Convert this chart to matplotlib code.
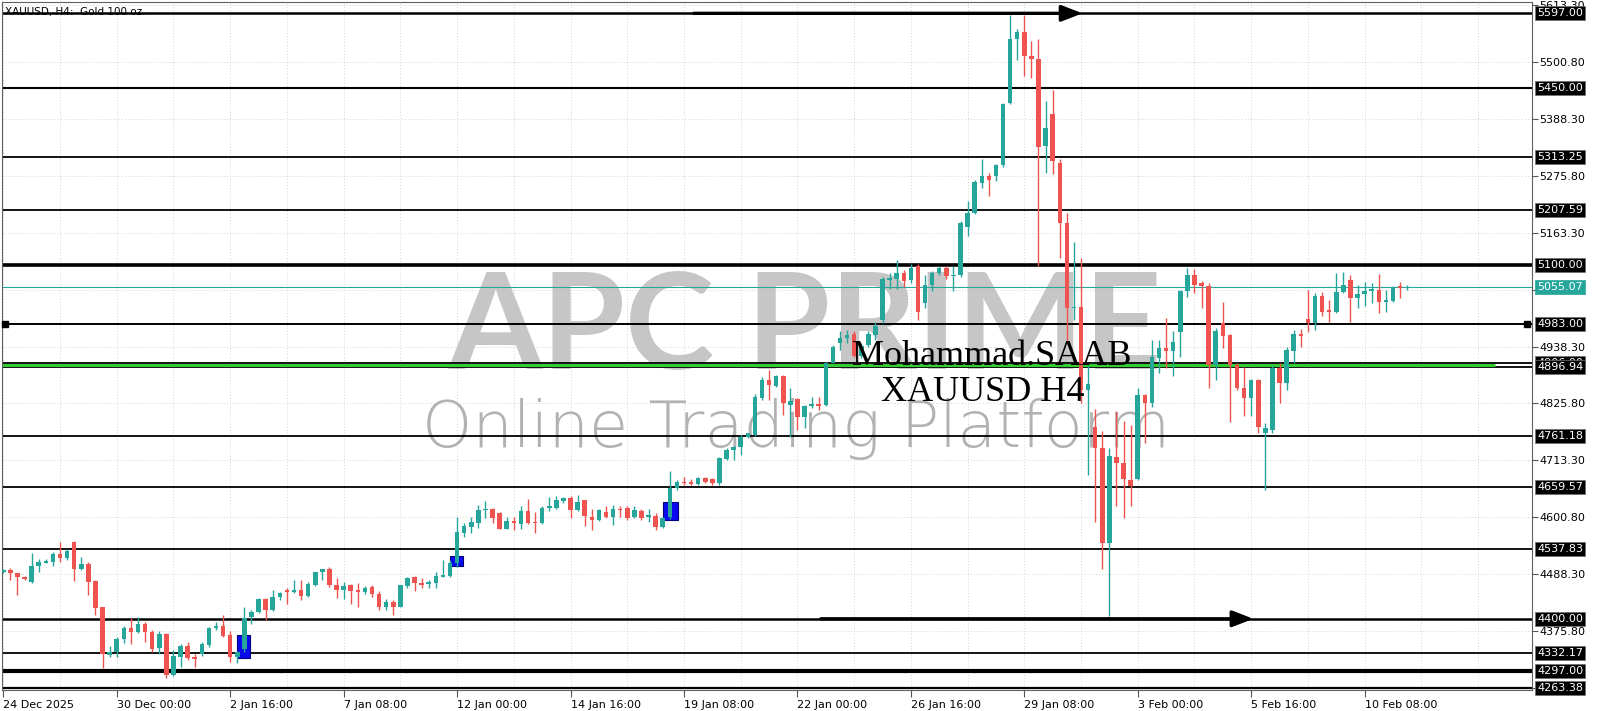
import matplotlib
matplotlib.use("Agg")
import matplotlib.pyplot as plt
import numpy as np
from matplotlib.patches import Rectangle

# XAUUSD H4 candles (bar 0 = 24 Dec 2025)
opens = [4492, 4497, 4490, 4483, 4472, 4505, 4511, 4513, 4528, 4521,
         4551, 4498, 4508, 4475, 4423, 4329, 4335, 4361, 4381, 4373,
         4389, 4373, 4342, 4369, 4289, 4325, 4347, 4325, 4330, 4348,
         4382, 4386, 4367, 4325, 4340, 4404, 4414, 4439, 4417, 4444,
         4456, 4452, 4456, 4446, 4467, 4492, 4498, 4467, 4456, 4467,
         4456, 4452, 4462, 4449, 4424, 4434, 4424, 4465, 4482, 4471,
         4468, 4471, 4483, 4485, 4510, 4570, 4582, 4589, 4616, 4618,
         4610, 4578, 4594, 4587, 4614, 4592, 4590, 4619, 4620, 4632,
         4638, 4616, 4634, 4602, 4595, 4612, 4602, 4618, 4620, 4601,
         4614, 4602, 4603, 4582, 4602, 4658, 4671, 4670, 4667, 4678,
         4676, 4668, 4716, 4734, 4739, 4759, 4763, 4836, 4872, 4860,
         4880, 4823, 4834, 4798, 4821, 4824, 4823, 4906, 4945, 4956,
         4964, 4920, 4941, 4961, 4990, 5069, 5071, 5083, 5069, 5098,
         5025, 5060, 5083, 5094, 5077, 5079, 5175, 5202, 5261, 5275,
         5275, 5298, 5420, 5546, 5560, 5513, 5506, 5334, 5397, 5302,
         5183, 5014, 5017, 4853, 4780, 4737, 4549, 4720, 4707, 4674,
         4677, 4842, 4826, 4915, 4935, 4930, 4966, 5049, 5080, 5063,
         5058, 4902, 4984, 4961, 4902, 4856, 4836, 4872, 4767, 4773,
         4895, 4867, 4930, 4963, 4992, 4985, 5038, 5010, 5007, 5047,
         5070, 5034, 5042, 5048, 5051, 5027, 5029, 5057, 5054]
highs = [4498, 4500, 4491, 4485, 4531, 4518, 4519, 4533, 4551, 4538,
         4553, 4522, 4513, 4477, 4424, 4346, 4363, 4386, 4401, 4403,
         4394, 4377, 4375, 4371, 4338, 4350, 4355, 4330, 4355, 4384,
         4394, 4408, 4375, 4337, 4424, 4417, 4441, 4441, 4457, 4452,
         4460, 4477, 4477, 4473, 4493, 4499, 4503, 4480, 4473, 4468,
         4470, 4464, 4467, 4454, 4440, 4437, 4467, 4482, 4485, 4480,
         4477, 4493, 4516, 4516, 4602, 4589, 4602, 4625, 4632, 4620,
         4612, 4602, 4602, 4622, 4636, 4612, 4622, 4640, 4642, 4641,
         4643, 4645, 4635, 4618, 4618, 4622, 4625, 4623, 4622, 4622,
         4618, 4618, 4609, 4602, 4693, 4674, 4681, 4677, 4680, 4681,
         4678, 4719, 4737, 4742, 4763, 4768, 4844, 4879, 4892, 4882,
         4882, 4856, 4836, 4823, 4839, 4839, 4908, 4941, 4968, 4970,
         4968, 4946, 4968, 4987, 5075, 5083, 5110, 5090, 5102, 5102,
         5079, 5087, 5098, 5098, 5098, 5187, 5225, 5267, 5309, 5282,
         5300, 5420, 5593, 5566, 5593, 5543, 5547, 5424, 5445, 5309,
         5202, 5144, 5113, 4902, 4814, 4772, 4737, 4810, 4791, 4783,
         4856, 4845, 4952, 4951, 4994, 4968, 5051, 5093, 5091, 5067,
         5063, 4974, 5027, 4964, 4905, 4898, 4875, 4875, 4787, 4902,
         4905, 4938, 4971, 4972, 5050, 5045, 5047, 5030, 5083, 5086,
         5080, 5060, 5065, 5063, 5082, 5050, 5057, 5065, 5060]
lows = [4490, 4477, 4448, 4477, 4470, 4493, 4510, 4504, 4513, 4516,
        4475, 4497, 4447, 4408, 4302, 4325, 4324, 4352, 4350, 4371,
        4355, 4335, 4330, 4282, 4286, 4305, 4319, 4305, 4327, 4345,
        4377, 4363, 4315, 4312, 4334, 4390, 4412, 4398, 4416, 4437,
        4429, 4450, 4437, 4444, 4465, 4477, 4462, 4442, 4440, 4429,
        4424, 4449, 4444, 4417, 4417, 4408, 4423, 4460, 4454, 4460,
        4460, 4460, 4482, 4483, 4503, 4562, 4570, 4579, 4599, 4589,
        4577, 4577, 4576, 4577, 4587, 4569, 4587, 4614, 4618, 4628,
        4599, 4614, 4584, 4576, 4594, 4599, 4585, 4602, 4595, 4599,
        4595, 4592, 4576, 4579, 4598, 4655, 4665, 4664, 4664, 4668,
        4664, 4665, 4714, 4714, 4723, 4757, 4761, 4832, 4832, 4858,
        4803, 4760, 4773, 4777, 4816, 4813, 4821, 4905, 4932, 4945,
        4918, 4915, 4937, 4952, 4985, 5052, 5052, 5056, 5063, 4991,
        5014, 5048, 5079, 5071, 5048, 5075, 5156, 5200, 5252, 5236,
        5265, 5294, 5418, 5505, 5474, 5470, 5098, 5282, 5279, 5113,
        4945, 4991, 4826, 4684, 4592, 4499, 4405, 4622, 4599, 4622,
        4674, 4747, 4819, 4885, 4895, 4880, 4918, 5037, 5045, 5014,
        4856, 4872, 4935, 4790, 4852, 4801, 4801, 4767, 4655, 4768,
        4826, 4852, 4905, 4938, 4966, 4971, 4999, 4987, 5004, 5045,
        4987, 5014, 5018, 5024, 5004, 5007, 5027, 5034, 5050]
closes = [4496, 4490, 4483, 4479, 4505, 4513, 4515, 4528, 4521, 4534,
          4498, 4508, 4473, 4422, 4330, 4335, 4361, 4381, 4373, 4389,
          4373, 4340, 4369, 4289, 4327, 4347, 4322, 4321, 4350, 4382,
          4386, 4365, 4325, 4335, 4401, 4414, 4439, 4417, 4444, 4450,
          4452, 4456, 4446, 4468, 4492, 4498, 4466, 4456, 4465, 4454,
          4452, 4460, 4449, 4424, 4434, 4424, 4466, 4480, 4470, 4467,
          4473, 4485, 4487, 4510, 4572, 4583, 4591, 4616, 4618, 4599,
          4578, 4594, 4589, 4614, 4590, 4589, 4620, 4622, 4634, 4638,
          4616, 4630, 4603, 4595, 4616, 4602, 4618, 4616, 4599, 4615,
          4599, 4605, 4582, 4599, 4658, 4671, 4668, 4667, 4678, 4671,
          4668, 4717, 4734, 4740, 4760, 4767, 4839, 4872, 4862, 4880,
          4827, 4831, 4798, 4821, 4824, 4821, 4905, 4938, 4955, 4961,
          4920, 4940, 4964, 4979, 5071, 5073, 5083, 5067, 5094, 5006,
          5060, 5083, 5094, 5077, 5079, 5183, 5202, 5263, 5276, 5267,
          5298, 5417, 5546, 5560, 5513, 5506, 5332, 5371, 5305, 5183,
          5014, 5017, 4853, 4864, 4737, 4549, 4722, 4707, 4676, 4662,
          4842, 4826, 4917, 4935, 4930, 4948, 5049, 5080, 5060, 5058,
          4902, 4968, 4959, 4902, 4856, 4836, 4872, 4780, 4777, 4895,
          4867, 4931, 4963, 4959, 4984, 5038, 5007, 5007, 5047, 5060,
          5034, 5042, 5049, 5052, 5027, 5030, 5055, 5054, 5055.07]

date_labels = ["24 Dec 2025", "30 Dec 00:00", "2 Jan 16:00", "7 Jan 08:00",
               "12 Jan 00:00", "14 Jan 16:00", "19 Jan 08:00", "22 Jan 00:00",
               "26 Jan 16:00", "29 Jan 08:00", "3 Feb 00:00", "5 Feb 16:00",
               "10 Feb 08:00"]
price_ticks = [4263.30, 4375.80, 4488.30, 4600.80, 4713.30, 4825.80, 4938.30,
               5050.80, 5163.30, 5275.80, 5388.30, 5500.80, 5613.30]

levels = [5597.00, 5450.00, 5313.25, 5207.59, 5100.00, 4983.00, 4906.00,
          4896.94, 4761.18, 4659.57, 4537.83, 4400.00, 4332.17, 4297.00, 4263.38]
current_price = 5055.07
green_level = 4901.5

# blue marker boxes: (bar from, bar to, price low, price high)
blue_boxes = [(32.9, 34.8, 4322, 4368), (63.0, 64.9, 4504, 4524), (93.0, 95.1, 4595, 4631)]
# arrows: (bar from, bar to, price)
arrows = [(97.4, 152.2, 5597.00), (115.3, 176.3, 4400.00)]

# styles
level_lw = {5597.00: 1.8, 5450.00: 1.5, 5100.00: 2.6, 4983.00: 1.4,
            4400.00: 1.8, 4297.00: 3.0, 4263.38: 1.6}
bull, bear = "#26a69a", "#ef5350"

o = np.array(opens, float)
h = np.array(highs, float)
l = np.array(lows, float)
c = np.array(closes, float)
x = np.arange(len(o))
cols = np.where(c >= o, bull, bear)

fig = plt.figure(figsize=(16, 7.11), dpi=100)
ax = fig.add_axes([2 / 1600, 21 / 711, 1530 / 1600, 688 / 711])
ax.set_xlim(-0.18, 215.6)
ax.set_ylim(4259.2, 5619.4)

# grid
for v in price_ticks:
    ax.axhline(v, color="#d4d4d4", lw=0.7, ls=(0, (1, 2)), zorder=0.5)
for b in range(0, 216, 8):
    ax.axvline(b, color="#d4d4d4", lw=0.7, ls=(0, (1, 2)), zorder=0.5)

# watermark
ax.text(806 / 1600, 1 - 369 / 711, "APC PRIME", transform=fig.transFigure,
        fontsize=97, family="Lato", fontweight="bold", color="#c6c6c6",
        ha="center", va="baseline", zorder=1)
ax.text(796 / 1600, 1 - 447 / 711, "Online Trading Platform", transform=fig.transFigure,
        fontsize=46, family="DejaVu Sans", fontweight=200, color="#b2b2b2",
        ha="center", va="baseline", zorder=1)

# levels
for lv in levels:
    ax.axhline(lv, color="black", lw=level_lw.get(lv, 1.3), zorder=2)
ax.hlines(green_level, -0.5, 210.4, color="#33cc33", lw=2.2, zorder=2.2)
ax.axhline(current_price, color=bull, lw=0.8, zorder=2)
ax.plot([0.25, 214.9], [4983.00, 4983.00], "s", color="black", ms=4.5,
        clip_on=False, zorder=6)

for x0, x1, p0, p1 in blue_boxes:
    ax.add_patch(Rectangle((x0, p0), x1 - x0, p1 - p0, facecolor="#0a0aee",
                           edgecolor="#00007a", lw=0.8, zorder=2.5))

for x0, x1, p in arrows:
    ax.annotate("", xy=(x1, p), xytext=(x0, p),
                arrowprops=dict(arrowstyle="-|>,head_length=0.9,head_width=0.35",
                                color="black", lw=2.4, mutation_scale=14,
                                shrinkA=0, shrinkB=0), zorder=5)

# candles
ax.vlines(x, l, h, colors=cols, lw=1, zorder=3)
ax.bar(x, np.maximum(np.abs(c - o), 1.6), bottom=np.minimum(o, c), width=0.64,
       color=cols, linewidth=0, zorder=4)

# texts
ax.text(5 / 1600, 1 - 12 / 711, "XAUUSD, H4:  Gold 100 oz.", transform=fig.transFigure,
        fontsize=7.5, ha="left", va="center", color="black", zorder=7)
ax.text(992 / 1600, 1 - 365 / 711, "Mohammad.SAAB", transform=fig.transFigure,
        fontsize=26, family="Liberation Serif", ha="center", va="baseline",
        color="black", zorder=7)
ax.text(983 / 1600, 1 - 401 / 711, "XAUUSD H4", transform=fig.transFigure,
        fontsize=26, family="Liberation Serif", ha="center", va="baseline",
        color="black", zorder=7)

# axes
ax.set_xticks(range(0, len(o), 16))
ax.set_xticklabels(date_labels, fontsize=8, ha="left")
ax.tick_params(axis="x", length=5, pad=2, color="#555555")
ax.yaxis.tick_right()
ax.set_yticks(price_ticks)
ax.set_yticklabels([f"{v:.2f}" for v in price_ticks], fontsize=8)
ax.tick_params(axis="y", length=4, pad=1, color="#555555")
for s in ax.spines.values():
    s.set_color("#606060")
    s.set_linewidth(0.8)

# price boxes on the right scale
for lv in levels:
    ax.annotate(f"{lv:.2f}", xy=(1, lv), xycoords=("axes fraction", "data"),
                xytext=(5, 0), textcoords="offset pixels", ha="left", va="center",
                fontsize=8, color="white", annotation_clip=False, zorder=10,
                bbox=dict(boxstyle="square,pad=0.18", fc="black", ec="#707070", lw=0.5))
ax.annotate(f"{current_price:.2f}", xy=(1, current_price), xycoords=("axes fraction", "data"),
            xytext=(5, 0), textcoords="offset pixels", ha="left", va="center",
            fontsize=8, color="white", annotation_clip=False, zorder=10,
            bbox=dict(boxstyle="square,pad=0.18", fc=bull, ec=bull, lw=0.5))

fig.savefig("out.png", dpi=100)
